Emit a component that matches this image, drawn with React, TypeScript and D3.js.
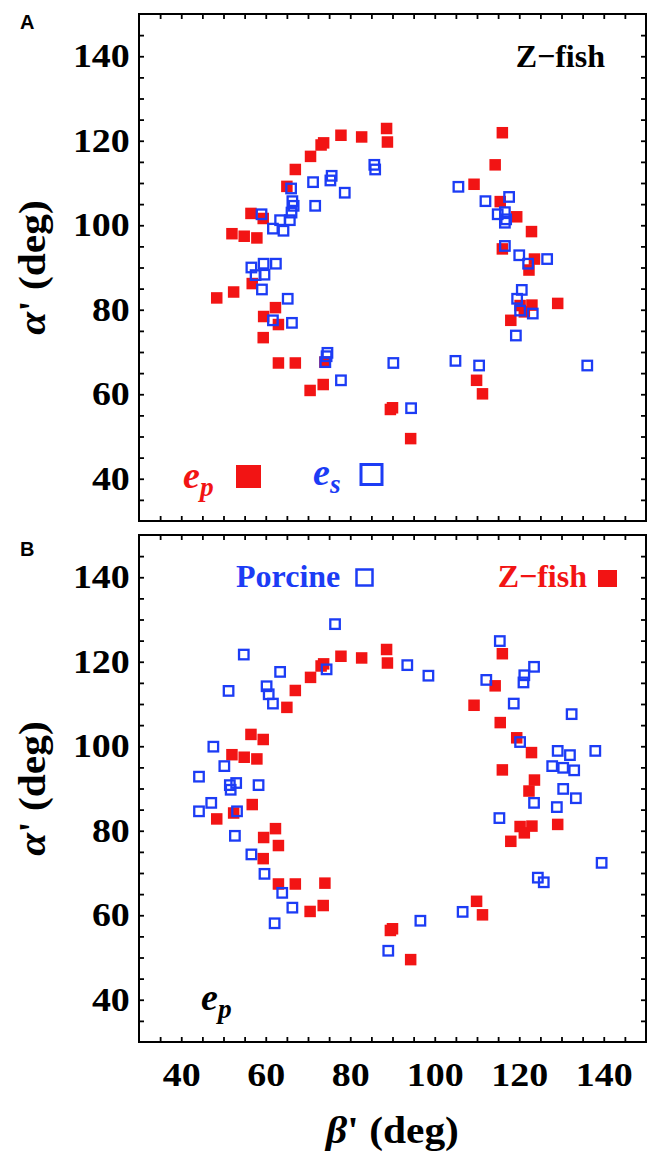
import React, { useRef, useEffect } from "react";
import * as d3 from "d3";

// [beta', alpha'] in degrees
const zfishEp: [number, number][] = [
  [88.6, 122.9], [88.8, 119.7], [82.7, 120.9], [77.8, 121.3], [73.7, 119.5],
  [73.1, 119.0], [70.6, 116.3], [67.0, 113.2], [65.0, 109.2], [56.5, 102.8],
  [59.4, 101.6], [52.0, 98.0], [54.9, 97.4], [57.9, 97.0], [56.8, 86.2],
  [52.4, 84.2], [48.4, 82.8], [59.5, 78.4], [62.3, 80.5], [63.0, 76.5],
  [59.4, 73.4], [63.0, 67.4], [67.0, 67.4], [74.0, 67.6], [70.5, 60.9],
  [73.6, 62.3], [89.5, 56.4], [90.0, 56.8], [94.3, 49.5],
  [116.0, 121.9], [114.3, 114.3], [109.3, 109.7], [115.5, 105.6], [119.4, 102.0],
  [122.9, 98.5], [116.0, 94.4], [123.6, 92.0], [122.3, 89.4], [129.1, 81.5],
  [120.2, 81.0], [121.2, 79.5], [123.0, 81.1], [118.0, 77.5], [109.9, 63.3],
  [111.3, 60.1],
];

const zfishEs: [number, number][] = [
  [85.7, 114.3], [85.9, 113.2], [75.6, 111.7], [75.3, 110.6], [71.2, 110.2],
  [78.7, 107.7], [71.7, 104.6], [66.0, 108.7], [66.3, 105.7], [66.6, 104.6],
  [66.1, 103.0], [65.7, 101.2], [63.4, 101.2], [64.2, 98.7], [61.7, 99.2],
  [59.0, 102.6], [56.6, 90.0], [59.5, 90.9], [62.4, 90.9], [57.6, 88.2],
  [59.7, 88.3], [59.1, 84.8], [65.2, 82.6], [61.7, 77.5], [66.2, 76.9],
  [74.6, 69.8], [74.4, 69.0], [74.1, 67.6], [77.8, 63.3], [90.2, 67.4],
  [94.4, 56.7],
  [105.6, 109.1], [112.0, 105.7], [117.6, 106.7], [114.9, 102.6], [116.6, 103.1],
  [116.9, 101.4], [116.6, 100.6], [116.6, 95.1], [120.0, 92.9], [122.1, 90.9],
  [126.6, 92.0], [120.6, 84.7], [119.5, 82.6], [120.2, 79.8], [123.2, 79.1],
  [119.2, 73.9], [104.9, 67.9], [110.5, 66.8], [136.1, 66.8],
];

const porcineEp: [number, number][] = [
  [76.4, 128.9], [115.4, 124.9], [54.8, 121.7], [63.4, 117.6], [74.4, 118.2],
  [93.5, 119.2], [98.5, 116.7], [51.2, 113.1], [60.2, 114.2], [60.7, 112.3],
  [61.7, 110.1], [112.2, 115.7], [121.0, 115.1], [121.2, 116.8], [123.5, 118.8],
  [118.7, 110.1], [132.4, 107.6], [47.6, 99.9], [120.2, 101.0], [50.2, 95.3],
  [44.2, 92.8], [51.5, 90.8], [53.0, 91.3], [51.7, 89.7], [58.3, 90.8],
  [47.1, 86.6], [44.2, 84.6], [53.2, 84.6], [129.1, 98.9], [132.0, 97.9],
  [138.0, 98.9], [127.8, 95.3], [130.4, 94.9], [133.0, 94.3], [130.4, 89.9],
  [133.4, 87.7], [123.5, 86.6], [128.9, 85.6], [115.3, 83.0], [52.7, 78.8],
  [56.6, 74.4], [59.7, 69.8], [63.9, 65.3], [66.3, 61.8], [62.1, 58.1],
  [89.0, 51.6], [96.6, 58.7], [106.6, 60.8], [124.4, 68.9], [125.8, 67.8],
  [139.5, 72.4],
];

const domain = [30, 150];
const tickLabels = [40, 60, 80, 100, 120, 140];
const minorTicks = d3.range(35, 150, 5);

const RED = "#f21414";
const BLUE = "#1c3cf5";
const SERIF = "'Liberation Serif', 'Times New Roman', serif";

const size = 507;
const left = 139;
const panels = [
  { key: "A", top: 14, letterY: 29 },
  { key: "B", top: 535, letterY: 556 },
];

const App = () => {
  const ref = useRef<SVGSVGElement>(null);

  useEffect(() => {
    if (!ref.current) return;
    const svg = d3.select(ref.current);
    svg.selectAll("*").remove();

    const x = d3.scaleLinear().domain(domain).range([0, size]);
    const y = d3.scaleLinear().domain(domain).range([size, 0]);

    panels.forEach((p, pi) => {
      const g = svg.append("g").attr("transform", `translate(${left},${p.top})`);

      // inward ticks on all four sides
      const tickAxes = [
        { ax: d3.axisBottom(x), t: `translate(0,${size})` },
        { ax: d3.axisTop(x), t: "translate(0,0)" },
        { ax: d3.axisLeft(y), t: "translate(0,0)" },
        { ax: d3.axisRight(y), t: `translate(${size},0)` },
      ];
      tickAxes.forEach(({ ax, t }) => {
        const a = g
          .append("g")
          .attr("transform", t)
          .call(ax.tickValues(minorTicks).tickSize(-5).tickFormat(() => ""));
        a.select(".domain").remove();
        a.selectAll("line").attr("stroke", "#000").attr("stroke-width", 1.8);
      });

      g.append("rect")
        .attr("width", size)
        .attr("height", size)
        .attr("fill", "none")
        .attr("stroke", "#000")
        .attr("stroke-width", 2);

      // y tick labels (the original font is a bit wider than Times)
      const yl = g
        .append("g")
        .call(d3.axisLeft(y).tickValues(tickLabels).tickSize(0).tickPadding(8));
      yl.select(".domain").remove();
      yl.selectAll("text")
        .attr("font-family", SERIF)
        .attr("font-weight", "bold")
        .attr("font-size", 33)
        .attr("fill", "#000")
        .attr("transform", "scale(1.15,1)");

      if (pi === 1) {
        const xl = g
          .append("g")
          .attr("transform", `translate(0,${size})`)
          .call(d3.axisBottom(x).tickValues(tickLabels).tickSize(0).tickPadding(21));
        xl.select(".domain").remove();
        xl.selectAll("text")
          .attr("font-family", SERIF)
          .attr("font-weight", "bold")
          .attr("font-size", 33)
          .attr("fill", "#000")
          .attr("transform", "scale(1.15,1)");
      }

      // y title
      const yt = g
        .append("text")
        .attr("transform", `translate(${-94},${size / 2}) rotate(-90) scale(1.12,1)`)
        .attr("text-anchor", "middle")
        .attr("font-family", SERIF)
        .attr("font-weight", "bold")
        .attr("font-size", 37);
      yt.append("tspan").attr("font-style", "italic").text("α");
      yt.append("tspan").text("' (deg)");

      // panel letter
      svg
        .append("text")
        .attr("x", 20)
        .attr("y", p.letterY)
        .attr("font-family", "'Liberation Sans', Arial, sans-serif")
        .attr("font-weight", "bold")
        .attr("font-size", 20)
        .text(p.key);

      const red = zfishEp;
      const blue = pi === 0 ? zfishEs : porcineEp;
      const sq = 11.5;

      g.selectAll(".red")
        .data(red)
        .enter()
        .append("rect")
        .attr("x", (d) => x(d[0]) - sq / 2)
        .attr("y", (d) => y(d[1]) - sq / 2)
        .attr("width", sq)
        .attr("height", sq)
        .attr("fill", RED);

      const bs = 9.5;
      g.selectAll(".blue")
        .data(blue)
        .enter()
        .append("rect")
        .attr("x", (d) => x(d[0]) - bs / 2)
        .attr("y", (d) => y(d[1]) - bs / 2)
        .attr("width", bs)
        .attr("height", bs)
        .attr("fill", "none")
        .attr("stroke", BLUE)
        .attr("stroke-width", 2.3);

      const subLabel = (gx: number, gy: number, sub: string, color: string, fs: number) => {
        const t = g
          .append("text")
          .attr("x", gx)
          .attr("y", gy)
          .attr("font-family", SERIF)
          .attr("font-weight", "bold")
          .attr("font-style", "italic")
          .attr("font-size", fs)
          .attr("fill", color);
        t.append("tspan").text("e");
        t.append("tspan").attr("dy", fs * 0.22).attr("font-size", fs * 0.72).text(sub);
      };

      if (pi === 0) {
        g.append("text")
          .attr("x", 466)
          .attr("y", 53)
          .attr("text-anchor", "end")
          .attr("font-family", SERIF)
          .attr("font-weight", "bold")
          .attr("font-size", 32)
          .text("Z−fish");
        subLabel(44, 474, "p", RED, 38);
        g.append("rect")
          .attr("x", 97)
          .attr("y", 451)
          .attr("width", 25)
          .attr("height", 23)
          .attr("fill", RED);
        subLabel(174, 471, "s", BLUE, 38);
        g.append("rect")
          .attr("x", 222)
          .attr("y", 450.5)
          .attr("width", 21)
          .attr("height", 20)
          .attr("fill", "none")
          .attr("stroke", BLUE)
          .attr("stroke-width", 3);
      } else {
        g.append("text")
          .attr("x", 97)
          .attr("y", 52)
          .attr("font-family", SERIF)
          .attr("font-weight", "bold")
          .attr("font-size", 32)
          .attr("fill", BLUE)
          .text("Porcine");
        g.append("rect")
          .attr("x", 217.5)
          .attr("y", 34.5)
          .attr("width", 16)
          .attr("height", 16)
          .attr("fill", "none")
          .attr("stroke", BLUE)
          .attr("stroke-width", 2.5);
        g.append("text")
          .attr("x", 448)
          .attr("y", 52)
          .attr("text-anchor", "end")
          .attr("font-family", SERIF)
          .attr("font-weight", "bold")
          .attr("font-size", 32)
          .attr("fill", RED)
          .text("Z−fish");
        g.append("rect")
          .attr("x", 459)
          .attr("y", 35)
          .attr("width", 19)
          .attr("height", 17)
          .attr("fill", RED);
        subLabel(62, 475, "p", "#000", 38);

        // x title
        const xt = g
          .append("text")
          .attr("transform", `translate(${size / 2},${size + 101}) scale(1.12,1)`)
          .attr("text-anchor", "middle")
          .attr("font-family", SERIF)
          .attr("font-weight", "bold")
          .attr("font-size", 37);
        xt.append("tspan").attr("font-style", "italic").text("β");
        xt.append("tspan").text("' (deg)");
      }
    });
  }, []);

  return (
    <svg
      ref={ref}
      width={649}
      height={1155}
      style={{ position: "absolute", left: 0, top: 0, background: "#fff" }}
    />
  );
};

export default App;
